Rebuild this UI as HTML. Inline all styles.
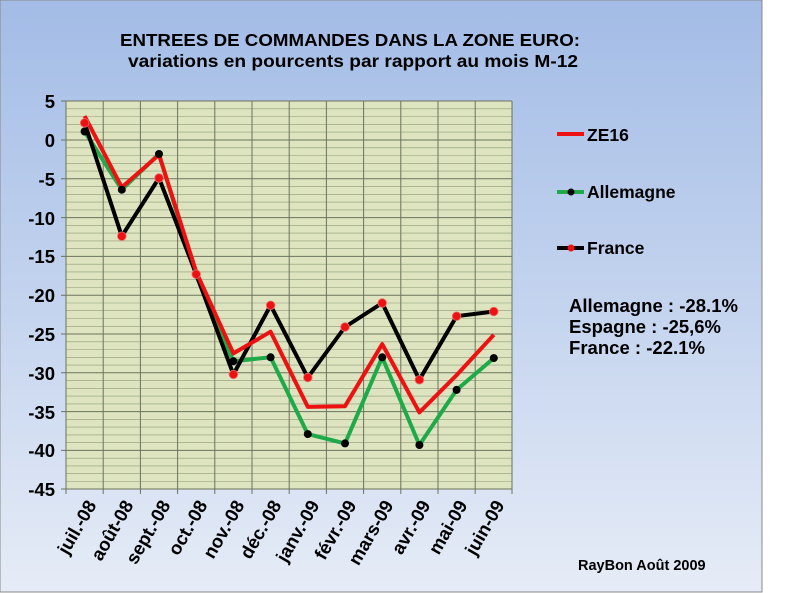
<!DOCTYPE html>
<html><head><meta charset="utf-8"><style>
html,body{margin:0;padding:0;background:#fff;}
svg{display:block;font-family:"Liberation Sans",Arial,sans-serif;font-weight:bold;}
</style></head><body>
<svg width="800" height="593" viewBox="0 0 800 593" xmlns="http://www.w3.org/2000/svg">
<defs>
<linearGradient id="bg" x1="0" y1="0" x2="0" y2="1">
<stop offset="0" stop-color="#a3bce6"/>
<stop offset="0.5" stop-color="#c3d3ee"/>
<stop offset="1" stop-color="#e6ecf7"/>
</linearGradient>
</defs>
<rect x="0" y="0" width="762" height="592" fill="url(#bg)" stroke="#888" stroke-width="1"/>
<text x="120" y="46" font-size="17.5" textLength="460" lengthAdjust="spacingAndGlyphs" fill="#000">ENTREES DE COMMANDES DANS LA ZONE EURO:</text>
<text x="128" y="67" font-size="17.5" textLength="450" lengthAdjust="spacingAndGlyphs" fill="#000">variations  en pourcents par rapport au mois M-12</text>
<rect x="66" y="101" width="446" height="388" fill="#dde4bf"/>
<g stroke="#8e9a7a" stroke-width="0.6">
<path d="M66 108.8H512M66 116.5H512M66 124.3H512M66 132.1H512M66 147.8H512M66 155.5H512M66 163.3H512M66 171.1H512M66 186.6H512M66 194.3H512M66 202.1H512M66 209.9H512M66 225.4H512M66 233.1H512M66 240.9H512M66 248.7H512M66 264.2H512M66 271.9H512M66 279.7H512M66 287.5H512M66 303H512M66 310.7H512M66 318.5H512M66 326.3H512M66 341.8H512M66 349.5H512M66 357.3H512M66 365.1H512M66 380.6H512M66 388.3H512M66 396.1H512M66 403.9H512M66 419.4H512M66 427.1H512M66 434.9H512M66 442.7H512M66 458.2H512M66 465.9H512M66 473.7H512M66 481.5H512"/>
</g>
<g stroke="#6b735e" stroke-width="1">
<path d="M66 101H512M66 140H512M66 178.8H512M66 217.6H512M66 256.4H512M66 295.2H512M66 334H512M66 372.8H512M66 411.6H512M66 450.4H512M66 489H512"/>
<path d="M103.2 101V494M140.4 101V494M177.6 101V494M214.8 101V494M252 101V494M289.2 101V494M326.4 101V494M363.6 101V494M400.8 101V494M438 101V494M475.2 101V494M512 101V494M66 101V494"/>
<path d="M61 101H66M61 140H66M61 178.8H66M61 217.6H66M61 256.4H66M61 295.2H66M61 334H66M61 372.8H66M61 411.6H66M61 450.4H66M61 489H66"/>
</g>
<g font-size="18.5" text-anchor="end" fill="#000">
<text x="55" y="108">5</text><text x="55" y="147">0</text><text x="55" y="186">-5</text><text x="55" y="225">-10</text><text x="55" y="263">-15</text><text x="55" y="302">-20</text><text x="55" y="341">-25</text><text x="55" y="380">-30</text><text x="55" y="419">-35</text><text x="55" y="457">-40</text><text x="55" y="496">-45</text>
</g>
<g font-size="18.5" text-anchor="end" fill="#000">
<text transform="translate(97,505) rotate(-60)">juil.-08</text>
<text transform="translate(134,505) rotate(-60)">août-08</text>
<text transform="translate(171,505) rotate(-60)">sept.-08</text>
<text transform="translate(208,505) rotate(-60)">oct.-08</text>
<text transform="translate(245,505) rotate(-60)">nov.-08</text>
<text transform="translate(282,505) rotate(-60)">déc.-08</text>
<text transform="translate(320,505) rotate(-60)">janv.-09</text>
<text transform="translate(357,505) rotate(-60)">févr.-09</text>
<text transform="translate(394,505) rotate(-60)">mars-09</text>
<text transform="translate(431,505) rotate(-60)">avr.-09</text>
<text transform="translate(468,505) rotate(-60)">mai-09</text>
<text transform="translate(505,505) rotate(-60)">juin-09</text>
</g>
<polyline fill="none" stroke="#1faa4a" stroke-width="4" stroke-linejoin="round" points="84.6,131.5 121.8,189.7 159,154 196.2,275.8 233.4,361.2 270.6,357.3 307.8,434.1 345,443.4 382.2,357.3 419.4,445 456.6,389.9 493.8,358.1"/>
<polyline fill="none" stroke="#000" stroke-width="4" stroke-linejoin="round" points="84.6,122.9 121.8,236.2 159,178 196.2,274.2 233.4,374.4 270.6,305.3 307.8,377.5 345,327 382.2,303 419.4,379.8 456.6,316.2 493.8,311.5"/>
<polyline fill="none" stroke="#ee1111" stroke-width="4" stroke-linejoin="round" points="84.6,116 121.8,187.3 159,154.7 196.2,271.9 233.4,353.4 270.6,331.7 307.8,406.9 345,406.2 382.2,344.1 419.4,412.4 456.6,375.1 493.8,334.8"/>
<g fill="#000">
<circle cx="84.6" cy="131.5" r="4"/><circle cx="121.8" cy="189.7" r="4"/><circle cx="159" cy="154" r="4"/><circle cx="233.4" cy="361.2" r="4"/><circle cx="270.6" cy="357.3" r="4"/><circle cx="307.8" cy="434.1" r="4"/><circle cx="345" cy="443.4" r="4"/><circle cx="382.2" cy="357.3" r="4"/><circle cx="419.4" cy="445" r="4"/><circle cx="456.6" cy="389.9" r="4"/><circle cx="493.8" cy="358.1" r="4"/>
</g>
<g fill="#ee1111" stroke="#f07070" stroke-width="0.8">
<circle cx="84.6" cy="122.9" r="4.3"/><circle cx="121.8" cy="236.2" r="4.3"/><circle cx="159" cy="178" r="4.3"/><circle cx="196.2" cy="274.2" r="4.3"/><circle cx="233.4" cy="374.4" r="4.3"/><circle cx="270.6" cy="305.3" r="4.3"/><circle cx="307.8" cy="377.5" r="4.3"/><circle cx="345" cy="327" r="4.3"/><circle cx="382.2" cy="303" r="4.3"/><circle cx="419.4" cy="379.8" r="4.3"/><circle cx="456.6" cy="316.2" r="4.3"/><circle cx="493.8" cy="311.5" r="4.3"/>
</g>
<line x1="557" y1="134" x2="584" y2="134" stroke="#ee1111" stroke-width="4"/>
<text x="587" y="141" font-size="17.5">ZE16</text>
<line x1="557" y1="192" x2="584" y2="192" stroke="#1faa4a" stroke-width="4"/>
<circle cx="571" cy="192" r="3.5" fill="#000"/>
<text x="587" y="198" font-size="17.5">Allemagne</text>
<line x1="557" y1="248" x2="584" y2="248" stroke="#000" stroke-width="4"/>
<circle cx="571" cy="248" r="3.5" fill="#ee1111"/>
<text x="587" y="254" font-size="17.5">France</text>
<text x="569" y="312" font-size="18" textLength="169" lengthAdjust="spacingAndGlyphs">Allemagne : -28.1%</text>
<text x="569" y="333" font-size="18" textLength="152" lengthAdjust="spacingAndGlyphs">Espagne : -25,6%</text>
<text x="569" y="354" font-size="18" textLength="136" lengthAdjust="spacingAndGlyphs">France : -22.1%</text>
<text x="578" y="570" font-size="14.5">RayBon Août 2009</text>
</svg>
</body></html>
